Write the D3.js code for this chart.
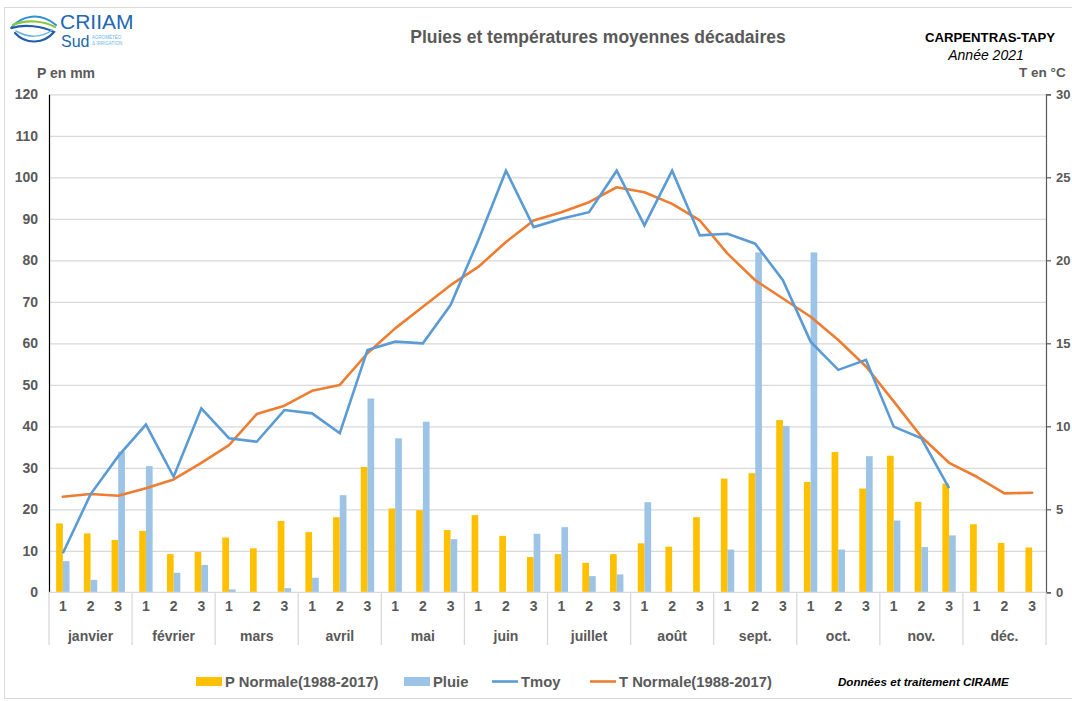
<!DOCTYPE html>
<html>
<head>
<meta charset="utf-8">
<script src="https://cdn.jsdelivr.net/npm/d3@7"></script>
<style>
  body { margin: 0; background: #fff; }
  svg { display: block; }
  text { font-family: "Liberation Sans", Arial, sans-serif; }
</style>
</head>
<body>
<script>
// mois et décades
const months = ["janvier", "février", "mars", "avril", "mai", "juin", "juillet", "août", "sept.", "oct.", "nov.", "déc."];
const decades = ["1", "2", "3"];

// P Normale(1988-2017), mm
const pNormale = [16.6, 14.2, 12.6, 14.8, 9.2, 9.7, 13.2, 10.6, 17.2, 14.5, 18.1, 30.2,
  20.2, 19.8, 15.0, 18.6, 13.6, 8.5, 9.2, 7.1, 9.2, 11.8, 11.0, 18.1,
  27.4, 28.7, 41.5, 26.6, 33.8, 25.0, 32.9, 21.8, 26.2, 16.4, 11.9, 10.8];
// Pluie 2021, mm
const pluie = [7.5, 3.0, 33.9, 30.4, 4.7, 6.6, 0.7, 0, 1.0, 3.5, 23.4, 46.7,
  37.1, 41.1, 12.8, 0, 0, 14.1, 15.7, 3.9, 4.3, 21.7, 0, 0,
  10.3, 81.9, 40.1, 81.9, 10.3, 32.8, 17.3, 10.9, 13.7, null, null, null];
// Tmoy 2021, °C
const tmoy = [2.35, 5.9, 8.2, 10.1, 6.96, 11.08, 9.28, 9.07, 10.98, 10.78, 9.58, 14.6,
  15.1, 15.0, 17.3, 21.2, 25.4, 22.0, 22.5, 22.9, 25.4, 22.1, 25.4, 21.5,
  21.6, 21.0, 18.8, 15.1, 13.4, 14.0, 9.98, 9.28, 6.27, null, null, null];
// T Normale(1988-2017), °C
const tNormale = [5.76, 5.92, 5.82, 6.27, 6.8, 7.8, 8.87, 10.74, 11.24, 12.14, 12.49, 14.4,
  15.9, 17.2, 18.5, 19.6, 21.1, 22.4, 22.9, 23.5, 24.4, 24.1, 23.4, 22.4,
  20.4, 18.8, 17.7, 16.6, 15.2, 13.6, 11.5, 9.37, 7.8, 6.96, 5.96, 6.0];

const pTicks = d3.range(0, 121, 10);
const tTicks = d3.range(0, 31, 5);

const width = 1072;
const height = 701;
const pl = 49, pr = 1046, pt = 94.3, pb = 592.3;
const grey = "#595959";
const fs = 14;

const svg = d3.select("body").append("svg")
  .attr("width", width)
  .attr("height", height);

// cadre
svg.append("rect")
  .attr("x", 4.5).attr("y", 7.5)
  .attr("width", 1080).attr("height", 691)
  .attr("fill", "none").attr("stroke", "#d9d9d9");

const idx = d3.range(36);
const x = d3.scaleBand().domain(idx).range([pl, pr]);
const bw = x.bandwidth();
const xSub = d3.scaleBand().domain(["norm", "pluie"]).range([0, bw]).paddingOuter(1.07);
const yP = d3.scaleLinear().domain([0, 120]).range([pb, pt]);
const yT = d3.scaleLinear().domain([0, 30]).range([pb, pt]);

// grille
svg.append("g")
  .attr("transform", `translate(${pl},0)`)
  .call(d3.axisLeft(yP).tickValues(pTicks.slice(1)).tickSize(-(pr - pl)).tickFormat(""))
  .call(g => g.select(".domain").remove())
  .call(g => g.selectAll("line").attr("stroke", "#d9d9d9").attr("stroke-width", 1.3));

// barres
svg.append("g").selectAll("rect")
  .data(idx)
  .join("rect")
  .attr("x", i => x(i) + xSub("norm"))
  .attr("y", i => yP(pNormale[i]))
  .attr("width", xSub.bandwidth())
  .attr("height", i => pb - yP(pNormale[i]))
  .attr("fill", "#ffc000");

svg.append("g").selectAll("rect")
  .data(idx.filter(i => pluie[i]))
  .join("rect")
  .attr("x", i => x(i) + xSub("pluie"))
  .attr("y", i => yP(pluie[i]))
  .attr("width", xSub.bandwidth())
  .attr("height", i => pb - yP(pluie[i]))
  .attr("fill", "#9dc3e6");

// courbes
const line = d3.line()
  .defined(d => d[1] != null)
  .x(d => x(d[0]) + bw / 2)
  .y(d => yT(d[1]));

svg.append("path")
  .datum(idx.map(i => [i, tNormale[i]]))
  .attr("d", line)
  .attr("fill", "none").attr("stroke", "#ed7d31").attr("stroke-width", 2.6)
  .attr("stroke-linejoin", "round").attr("stroke-linecap", "round");

svg.append("path")
  .datum(idx.map(i => [i, tmoy[i]]))
  .attr("d", line)
  .attr("fill", "none").attr("stroke", "#5b9bd5").attr("stroke-width", 2.6)
  .attr("stroke-linejoin", "miter").attr("stroke-linecap", "butt");

// axe gauche
const axL = svg.append("g")
  .attr("transform", `translate(${pl},0)`)
  .call(d3.axisLeft(yP).tickValues(pTicks).tickSize(0).tickPadding(11));
axL.select(".domain").attr("stroke", "#000").attr("stroke-width", 1.2);
axL.selectAll("text").attr("font-size", fs).attr("font-weight", "bold").attr("fill", grey)
  .attr("font-family", "Liberation Sans, Arial, sans-serif");

// axe droit
const axR = svg.append("g")
  .attr("transform", `translate(${pr},0)`)
  .call(d3.axisRight(yT).tickValues(tTicks).tickSizeOuter(0).tickSize(5).tickPadding(5));
axR.selectAll(".domain, line").attr("stroke", grey).attr("stroke-width", 1.2);
axR.selectAll("text").attr("font-size", 13).attr("font-weight", "bold").attr("fill", grey)
  .attr("font-family", "Liberation Sans, Arial, sans-serif");

// axe des catégories
const cat = svg.append("g");
cat.append("line")
  .attr("x1", pl).attr("x2", pr).attr("y1", pb).attr("y2", pb)
  .attr("stroke", "#d9d9d9").attr("stroke-width", 1.3);
cat.selectAll("line.sep")
  .data(d3.range(13))
  .join("line")
  .attr("class", "sep")
  .attr("x1", m => m < 12 ? x(m * 3) : pr)
  .attr("x2", m => m < 12 ? x(m * 3) : pr)
  .attr("y1", pb).attr("y2", 645)
  .attr("stroke", "#d9d9d9").attr("stroke-width", 1.3);
cat.selectAll("text.dec")
  .data(idx)
  .join("text")
  .attr("class", "dec")
  .attr("x", i => x(i) + bw / 2)
  .attr("y", 611)
  .attr("text-anchor", "middle")
  .attr("font-size", fs).attr("font-weight", "bold").attr("fill", grey)
  .text(i => decades[i % 3]);
cat.selectAll("text.month")
  .data(months)
  .join("text")
  .attr("class", "month")
  .attr("x", (m, k) => x(k * 3) + bw * 1.5)
  .attr("y", 641)
  .attr("text-anchor", "middle")
  .attr("font-size", fs).attr("font-weight", "bold").attr("fill", grey)
  .text(m => m);

// titres
svg.append("text")
  .attr("x", 598).attr("y", 43)
  .attr("text-anchor", "middle")
  .attr("font-family", "Open Sans, sans-serif")
  .attr("font-size", 17.5).attr("font-weight", "bold").attr("fill", grey)
  .text("Pluies et températures moyennes décadaires");
svg.append("text")
  .attr("x", 990).attr("y", 42)
  .attr("text-anchor", "middle")
  .attr("font-family", "Open Sans, sans-serif")
  .attr("font-size", 13.2).attr("font-weight", "bold").attr("fill", "#000")
  .text("CARPENTRAS-TAPY");
svg.append("text")
  .attr("x", 986).attr("y", 60)
  .attr("text-anchor", "middle")
  .attr("font-family", "Open Sans, sans-serif")
  .attr("font-size", 14).attr("font-style", "italic").attr("fill", "#000")
  .text("Année 2021");
svg.append("text")
  .attr("x", 66).attr("y", 78)
  .attr("text-anchor", "middle")
  .attr("font-size", fs).attr("font-weight", "bold").attr("fill", grey)
  .text("P en mm");
svg.append("text")
  .attr("x", 1019).attr("y", 77)
  .attr("font-size", 13.5).attr("font-weight", "bold").attr("fill", grey)
  .text("T en °C");

// logo
const logo = svg.append("g").attr("fill", "none").attr("stroke-linecap", "round");
logo.append("path")
  .attr("d", "M11,28 C22,15 40,12 56,25")
  .attr("stroke", "#2f8fd8").attr("stroke-width", 2);
logo.append("path")
  .attr("d", "M13,25 C26,19 44,21 55,27")
  .attr("stroke", "#8cc63f").attr("stroke-width", 2.2);
logo.append("path")
  .attr("d", "M12,28 C24,24 42,26 54,32 C44,44 26,45 15,33")
  .attr("stroke", "#1f5fa8").attr("stroke-width", 2.2);
logo.append("path")
  .attr("d", "M16,31 C28,38 42,38 52,30")
  .attr("stroke", "#6bb4e6").attr("stroke-width", 1.5);
logo.append("text")
  .attr("x", 60).attr("y", 29)
  .attr("font-size", 21).attr("fill", "#2367b0")
  .text("CRIIAM");
logo.append("text")
  .attr("x", 61).attr("y", 47)
  .attr("font-size", 16).attr("fill", "#2367b0")
  .text("Sud");
logo.append("text")
  .attr("x", 92).attr("y", 39)
  .attr("font-size", 4.5).attr("fill", "#6bb4e6")
  .text("AGROMÉTÉO");
logo.append("text")
  .attr("x", 92).attr("y", 45)
  .attr("font-size", 4.5).attr("fill", "#6bb4e6")
  .text("& IRRIGATION");

// légende
const legend = svg.append("g").attr("font-size", 14.8).attr("font-weight", "bold").attr("fill", grey);
const items = [
  { label: "P Normale(1988-2017)", color: "#ffc000", type: "rect", x: 196 },
  { label: "Pluie", color: "#9dc3e6", type: "rect", x: 404 },
  { label: "Tmoy", color: "#5b9bd5", type: "line", x: 492 },
  { label: "T Normale(1988-2017)", color: "#ed7d31", type: "line", x: 590 }
];
items.forEach(it => {
  if (it.type === "rect") {
    legend.append("rect").attr("x", it.x).attr("y", 677).attr("width", 26).attr("height", 9).attr("fill", it.color);
  } else {
    legend.append("line").attr("x1", it.x).attr("x2", it.x + 26).attr("y1", 681.5).attr("y2", 681.5)
      .attr("stroke", it.color).attr("stroke-width", 2.6);
  }
  legend.append("text").attr("x", it.x + 29).attr("y", 686.5).text(it.label);
});
svg.append("text")
  .attr("x", 838).attr("y", 685.5)
  .attr("font-size", 11.6).attr("font-weight", "bold").attr("font-style", "italic").attr("fill", "#000")
  .text("Données et traitement CIRAME");
</script>
</body>
</html>
